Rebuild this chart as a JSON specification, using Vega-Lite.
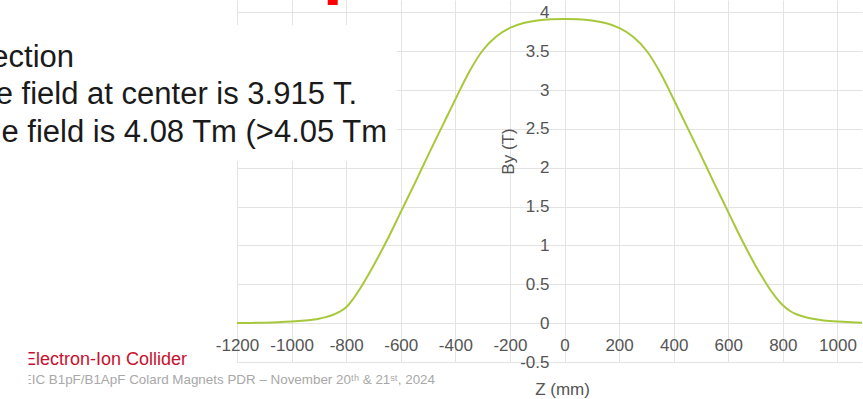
{
  "$schema": "https://vega.github.io/schema/vega-lite/v6.json",
  "autosize": "none",
  "width": 625,
  "height": 362,
  "padding": {"left": 237, "top": 0, "right": 1, "bottom": 37},
  "background": "white",
  "config": {"view": {"stroke": null}, "font": "Liberation Sans"},
  "layer": [
    {
      "data": {"values": [
        {"z": -1200, "B": 0.002}, {"z": -1150, "B": 0.003}, {"z": -1100, "B": 0.006}, {"z": -1050, "B": 0.011},
        {"z": -1000, "B": 0.02}, {"z": -950, "B": 0.035}, {"z": -900, "B": 0.058}, {"z": -875, "B": 0.078},
        {"z": -850, "B": 0.105}, {"z": -825, "B": 0.145}, {"z": -800, "B": 0.205}, {"z": -775, "B": 0.31},
        {"z": -750, "B": 0.44}, {"z": -725, "B": 0.585}, {"z": -700, "B": 0.74}, {"z": -650, "B": 1.07},
        {"z": -600, "B": 1.43}, {"z": -550, "B": 1.79}, {"z": -500, "B": 2.16}, {"z": -450, "B": 2.52},
        {"z": -400, "B": 2.88}, {"z": -350, "B": 3.23}, {"z": -300, "B": 3.51}, {"z": -250, "B": 3.69},
        {"z": -200, "B": 3.8}, {"z": -150, "B": 3.863}, {"z": -100, "B": 3.897}, {"z": -50, "B": 3.912},
        {"z": 0, "B": 3.915}, {"z": 50, "B": 3.912}, {"z": 100, "B": 3.897}, {"z": 150, "B": 3.863},
        {"z": 200, "B": 3.8}, {"z": 250, "B": 3.69}, {"z": 300, "B": 3.51}, {"z": 350, "B": 3.23},
        {"z": 400, "B": 2.88}, {"z": 450, "B": 2.52}, {"z": 500, "B": 2.16}, {"z": 550, "B": 1.79},
        {"z": 600, "B": 1.43}, {"z": 650, "B": 1.07}, {"z": 700, "B": 0.74}, {"z": 725, "B": 0.59},
        {"z": 750, "B": 0.45}, {"z": 775, "B": 0.33}, {"z": 800, "B": 0.23}, {"z": 825, "B": 0.16},
        {"z": 850, "B": 0.115}, {"z": 875, "B": 0.085}, {"z": 900, "B": 0.062}, {"z": 950, "B": 0.035},
        {"z": 1000, "B": 0.02}, {"z": 1050, "B": 0.011}, {"z": 1100, "B": 0.006}
      ]},
      "mark": {"type": "line", "color": "#a8c83c", "strokeWidth": 2, "interpolate": "monotone", "clip": true},
      "encoding": {
        "x": {
          "field": "z", "type": "quantitative",
          "scale": {"domain": [-1200, 1090], "nice": false, "zero": false},
          "axis": {
            "title": "Z (mm)", "values": [-1200, -1000, -800, -600, -400, -200, 0, 200, 400, 600, 800, 1000],
            "labelExpr": "'' + datum.value", "offset": -38.8, "domain": false, "ticks": false, "tickSize": 0,
            "labelPadding": 14, "labelFontSize": 17, "labelColor": "#555555", "labelFont": "Liberation Sans",
            "labelOverlap": false, "labelFlush": false,
            "grid": true, "gridColor": "#e3e3e3", "gridWidth": 1,
            "titleFontSize": 17, "titleFontWeight": "normal", "titleColor": "#555555", "titleFont": "Liberation Sans",
            "titleX": 325, "titleY": 70.8, "titleBaseline": "alphabetic", "titleAlign": "center"
          }
        },
        "y": {
          "field": "B", "type": "quantitative",
          "scale": {"domain": [-0.5, 4.16], "nice": false, "zero": false},
          "axis": {
            "title": "By (T)", "values": [-0.5, 0, 0.5, 1, 1.5, 2, 2.5, 3, 3.5, 4],
            "labelExpr": "'' + datum.value", "offset": -327.5, "domain": false, "ticks": false, "tickSize": 0,
            "labelPadding": 15.5, "labelFontSize": 17, "labelColor": "#555555", "labelFont": "Liberation Sans",
            "labelOverlap": false, "labelFlush": false,
            "grid": true, "gridColor": "#e3e3e3", "gridWidth": 1,
            "titleFontSize": 17, "titleFontWeight": "normal", "titleColor": "#555555", "titleFont": "Liberation Sans",
            "titleX": -56.5, "titleY": 151, "titleBaseline": "middle", "titleAlign": "center", "titleAngle": -90
          }
        }
      }
    },
    {
      "data": {"values": [{}]},
      "mark": {"type": "rect", "color": "white", "stroke": null},
      "encoding": {
        "x": {"datum": -2068, "type": "quantitative"}, "x2": {"datum": -613.6},
        "y": {"datum": 3.839, "type": "quantitative"}, "y2": {"datum": 2.088}
      }
    },
    {
      "data": {"values": [{}]},
      "mark": {"type": "text", "text": "Field along Z direction", "align": "right", "baseline": "alphabetic", "fontSize": 31, "font": "Liberation Sans", "color": "#1a1a1a"},
      "encoding": {"x": {"datum": -1797, "type": "quantitative"}, "y": {"datum": 3.302, "type": "quantitative"}}
    },
    {
      "data": {"values": [{}]},
      "mark": {"type": "text", "text": "The field at center is 3.915 T.", "align": "right", "baseline": "alphabetic", "fontSize": 31, "font": "Liberation Sans", "color": "#1a1a1a"},
      "encoding": {"x": {"datum": -760, "type": "quantitative"}, "y": {"datum": 2.822, "type": "quantitative"}}
    },
    {
      "data": {"values": [{}]},
      "mark": {"type": "text", "text": "Integral of the field is 4.08 Tm (>4.05 Tm", "align": "right", "baseline": "alphabetic", "fontSize": 31, "font": "Liberation Sans", "color": "#1a1a1a"},
      "encoding": {"x": {"datum": -650, "type": "quantitative"}, "y": {"datum": 2.326, "type": "quantitative"}}
    },
    {
      "data": {"values": [{}]},
      "mark": {"type": "rect", "color": "#ff0000", "stroke": null},
      "encoding": {
        "x": {"datum": -867.6, "type": "quantitative"}, "x2": {"datum": -831},
        "y": {"datum": 4.16, "type": "quantitative"}, "y2": {"datum": 4.096}
      }
    },
    {
      "data": {"values": [{}]},
      "mark": {"type": "text", "text": "Electron-Ion Collider", "align": "right", "baseline": "alphabetic", "fontSize": 18, "font": "Liberation Sans", "color": "#c8102e"},
      "encoding": {"x": {"datum": -1383, "type": "quantitative"}, "y": {"datum": -0.538, "type": "quantitative"}}
    },
    {
      "data": {"values": [{}]},
      "mark": {"type": "text", "text": "EIC B1pF/B1ApF Colard Magnets PDR – November 20ᵗʰ & 21ˢᵗ, 2024", "align": "right", "baseline": "alphabetic", "fontSize": 13.4, "font": "Liberation Sans", "color": "#a8a8a8"},
      "encoding": {"x": {"datum": -474.5, "type": "quantitative"}, "y": {"datum": -0.787, "type": "quantitative"}}
    },
    {
      "data": {"values": [{}]},
      "mark": {"type": "rect", "color": "white", "stroke": null},
      "encoding": {
        "x": {"datum": -2068, "type": "quantitative"}, "x2": {"datum": -1964},
        "y": {"datum": -0.216, "type": "quantitative"}, "y2": {"datum": -0.976}
      }
    }
  ]
}
